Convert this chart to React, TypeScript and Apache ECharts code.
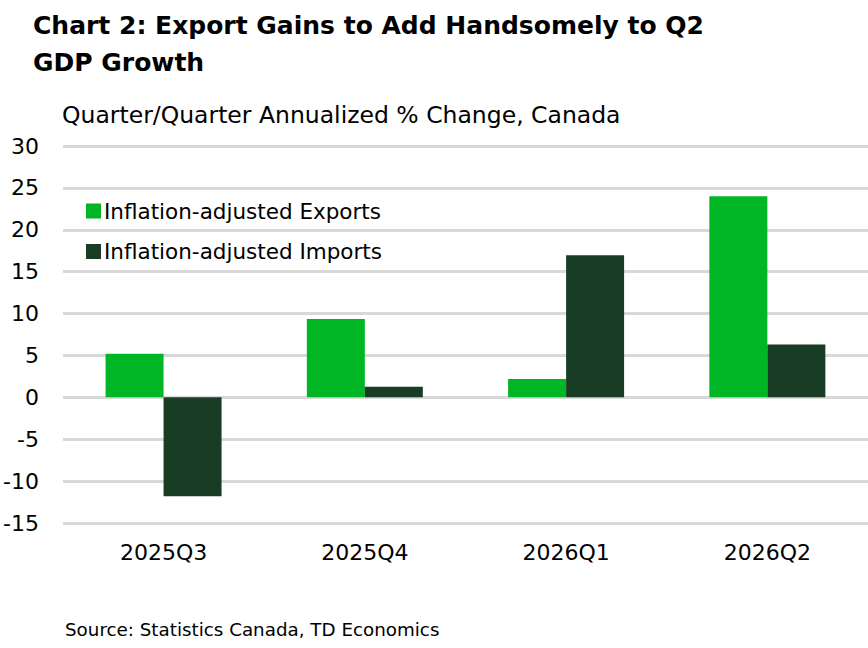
import { useEffect, useRef } from "react";
import * as echarts from "echarts";

const categories = ["2025Q3", "2025Q4", "2026Q1", "2026Q2"];
const exportsData = [5.2, 9.35, 2.2, 24.0];
const importsData = [-11.8, 1.25, 16.95, 6.3];

const FONT = "DejaVu Sans";
const EXPORT_COLOR = "#00b624";
const IMPORT_COLOR = "#193d24";

function App() {
  const chartRef = useRef<HTMLDivElement>(null);

  useEffect(() => {
    if (!chartRef.current) return;
    const chart = echarts.init(chartRef.current, null, { renderer: "svg" });

    const option = {
      animation: false,
      textStyle: { fontFamily: FONT, color: "#000" },
      title: [
        {
          text: "Chart 2: Export Gains to Add Handsomely to Q2\nGDP Growth",
          left: 33,
          top: 7,
          padding: 0,
          textStyle: {
            fontFamily: FONT,
            fontSize: 25,
            fontWeight: "bold",
            color: "#000",
            lineHeight: 37,
          },
        },
        {
          text: "Quarter/Quarter Annualized % Change, Canada",
          left: 62,
          top: 103,
          padding: 0,
          textStyle: { fontFamily: FONT, fontSize: 23.5, fontWeight: "normal", color: "#000" },
        },
        {
          text: "Source: Statistics Canada, TD Economics",
          left: 65,
          top: 620,
          padding: 0,
          textStyle: { fontFamily: FONT, fontSize: 18.3, fontWeight: "normal", color: "#000" },
        },
      ],
      legend: {
        orient: "vertical",
        left: 86,
        top: 200,
        padding: 0,
        itemWidth: 15,
        itemHeight: 15,
        itemGap: 18.5,
        icon: "rect",
        textStyle: { fontFamily: FONT, fontSize: 21.5, color: "#000", padding: [0, 0, 0, -2] },
        data: ["Inflation-adjusted Exports", "Inflation-adjusted Imports"],
      },
      grid: { left: 61, right: 0, top: 146, bottom: 125, containLabel: false },
      xAxis: {
        type: "category",
        data: categories,
        axisLine: { show: false },
        axisTick: { show: false },
        axisLabel: { fontFamily: FONT, fontSize: 22, color: "#000", margin: 18 },
      },
      yAxis: {
        type: "value",
        min: -15,
        max: 30,
        interval: 5,
        axisLine: { show: false },
        axisTick: { show: false },
        axisLabel: { fontFamily: FONT, fontSize: 22, color: "#000", margin: 24 },
        splitLine: { lineStyle: { color: "#d9d9d9", width: 3 } },
      },
      series: [
        {
          name: "Inflation-adjusted Exports",
          type: "bar",
          data: exportsData,
          barWidth: 58,
          barGap: "0%",
          itemStyle: { color: EXPORT_COLOR },
        },
        {
          name: "Inflation-adjusted Imports",
          type: "bar",
          data: importsData,
          barWidth: 58,
          barGap: "0%",
          itemStyle: { color: IMPORT_COLOR },
        },
      ],
    };

    chart.setOption(option);
    return () => chart.dispose();
  }, []);

  return (
    <div
      ref={chartRef}
      style={{ position: "absolute", left: 0, top: 0, width: 868, height: 648, background: "#fff" }}
    />
  );
}

export default App;
